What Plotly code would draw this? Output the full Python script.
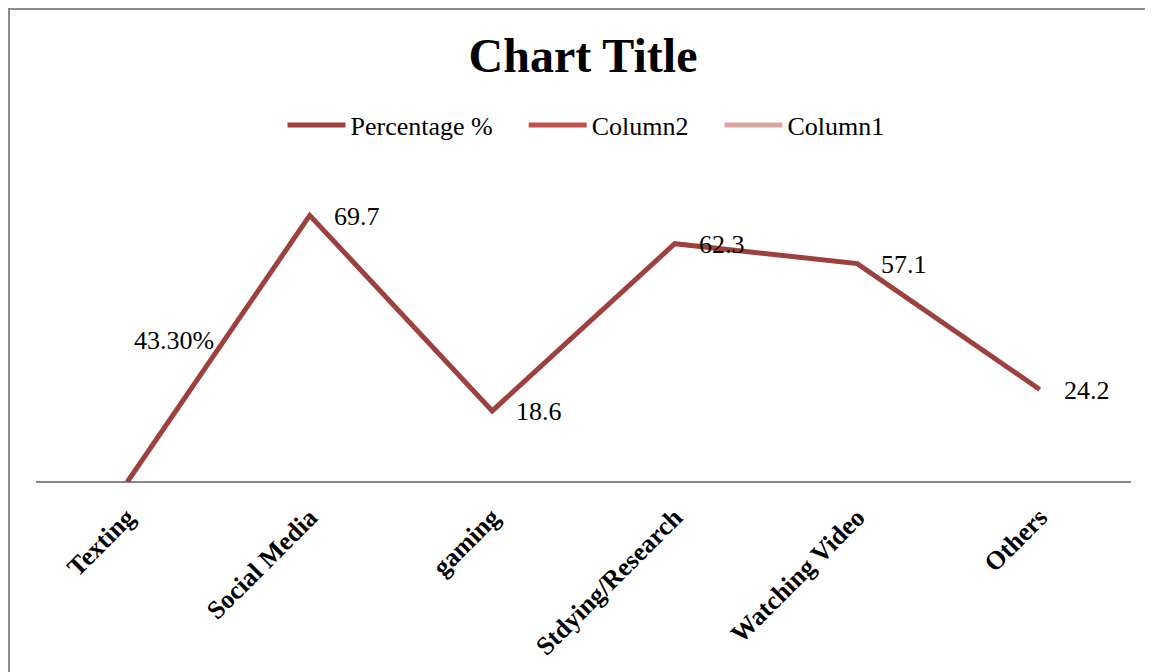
import plotly.graph_objects as go

categories = ["Texting", "Social Media", "gaming", "Stdying/Research", "Watching Video", "Others"]
percentage_values = [0, 69.7, 18.6, 62.3, 57.1, 24.2]
percentage_labels = ["43.30%", "69.7", "18.6", "62.3", "57.1", "24.2"]
column2_values = [None, None, None, None, None, None]
column1_values = [None, None, None, None, None, None]
series_names = ["Percentage %", "Column2", "Column1"]

W, H = 1153, 672
O = 8  # page body margin offset
# plot area in reference screen pixels: x 36..1131, y 176..482
L = 36 - O
R = W - (1131 - O)
T = 176 - O
B = H - (482 - O)
pw, ph = W - L - R, H - T - B
ymax = 80

def px2x(p):
    return (p - O - L) / pw

def py2y(p):
    return (H - B - (p - O)) / ph

pad = "\u00a0" * 4

fig = go.Figure()
fig.add_trace(go.Scatter(x=categories, y=percentage_values, mode="lines", name=series_names[0] + pad,
                         line=dict(color="#9E413E", width=5)))
fig.add_trace(go.Scatter(x=categories, y=column2_values, mode="lines", name=series_names[1] + pad,
                         line=dict(color="#C0504D", width=5), showlegend=True))
fig.add_trace(go.Scatter(x=categories, y=column1_values, mode="lines", name=series_names[2],
                         line=dict(color="#D9A5A3", width=5), showlegend=True))

for i, (c, v, t) in enumerate(zip(categories, percentage_values, percentage_labels)):
    if i == 0:
        fig.add_annotation(x=c, y=v, text=t, showarrow=False, xanchor="center", yanchor="middle",
                           xshift=47, yshift=142, font=dict(size=26, color="black"))
    else:
        fig.add_annotation(x=c, y=v, text=t, showarrow=False, xanchor="left", yanchor="middle",
                           xshift=22, yshift=-1, font=dict(size=26, color="black"))

fig.add_shape(type="rect", xref="paper", yref="paper",
              x0=px2x(9), x1=px2x(1200), y0=py2y(720), y1=py2y(9),
              line=dict(color="#8C8C8C", width=2), fillcolor="rgba(0,0,0,0)", layer="below")

fig.update_layout(
    width=W, height=H,
    margin=dict(l=L, r=R, t=T, b=B, autoexpand=False),
    paper_bgcolor="white", plot_bgcolor="white",
    font=dict(family="Liberation Serif, Times New Roman, serif", color="black"),
    title=dict(text="<b>Chart Title</b>", x=(583 - O) / W, xanchor="center", xref="container",
               y=1 - (55 - O) / H, yanchor="middle", yref="container",
               font=dict(size=48, color="black")),
    legend=dict(orientation="h", x=px2x(586), xanchor="center", y=py2y(125), yanchor="middle",
                font=dict(size=26, color="black"), itemwidth=58, bgcolor="rgba(0,0,0,0)"),
    showlegend=True,
)
fig.update_xaxes(type="category", range=[-0.5, 5.5], showgrid=False, zeroline=False,
                 showline=False, ticks="", tickangle=-45,
                 tickfont=dict(size=26, color="black", family="Liberation Serif"),
                 ticklabelstandoff=14, tickprefix="<b>", ticksuffix="</b>")
fig.update_yaxes(range=[0, ymax], showgrid=False, zeroline=True, zerolinecolor="#868686",
                 zerolinewidth=2, showticklabels=False, showline=False, ticks="")

fig.write_html("out.html")
